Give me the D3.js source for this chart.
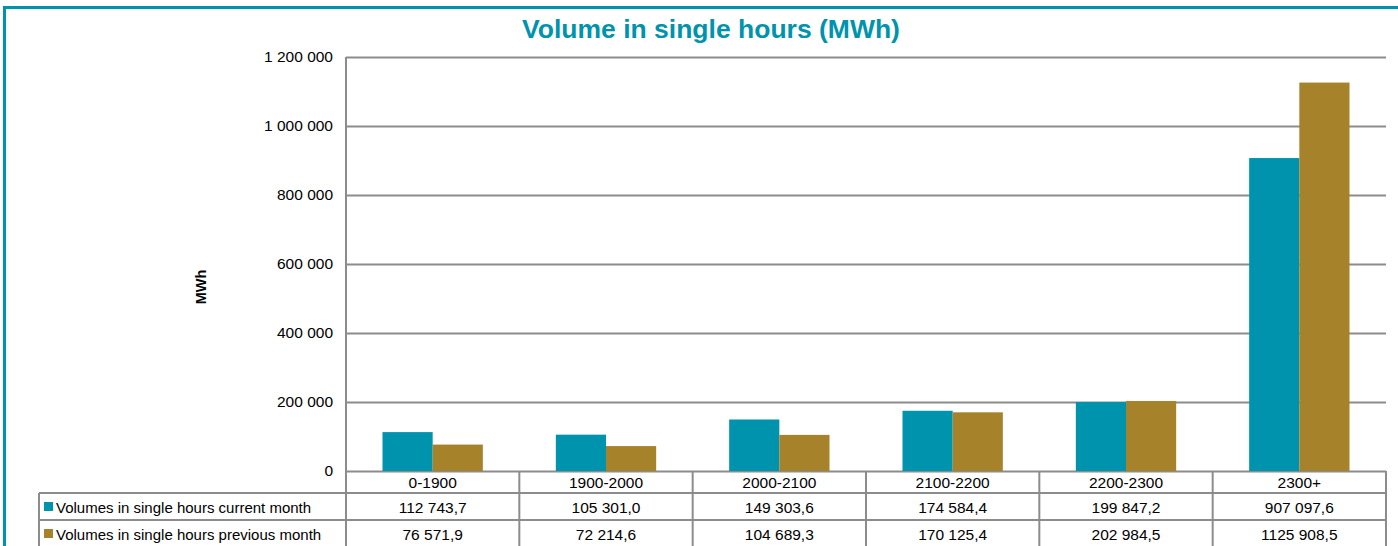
<!DOCTYPE html>
<html>
<head>
<meta charset="utf-8">
<script src="https://cdn.jsdelivr.net/npm/d3@7"></script>
<style>
  body { margin: 0; background: #fff; }
  text { font-family: "Liberation Sans", Arial, sans-serif; }
</style>
</head>
<body>
<div id="chart"></div>
<script>
// data
var categories = ["0-1900", "1900-2000", "2000-2100", "2100-2200", "2200-2300", "2300+"];
var currentMonth = [112743.7, 105301.0, 149303.6, 174584.4, 199847.2, 907097.6];
var previousMonth = [76571.9, 72214.6, 104689.3, 170125.4, 202984.5, 1125908.5];
var currentLabels = ["112 743,7", "105 301,0", "149 303,6", "174 584,4", "199 847,2", "907 097,6"];
var previousLabels = ["76 571,9", "72 214,6", "104 689,3", "170 125,4", "202 984,5", "1125 908,5"];
var seriesNames = ["Volumes in single hours current month", "Volumes in single hours previous month"];
var yTicks = [0, 200000, 400000, 600000, 800000, 1000000, 1200000];

var colors = ["#0093ae", "#a6822a"];
var gridColor = "#8c8c8c";

var width = 1398, height = 546;
var plotLeft = 346, plotRight = 1386, plotTop = 57, plotBottom = 471;

var svg = d3.select("#chart")
  .append("svg")
    .attr("width", width)
    .attr("height", height);

// frame
svg.append("rect")
  .attr("x", 4.5).attr("y", 7.5)
  .attr("width", width + 10).attr("height", height + 10)
  .attr("fill", "none")
  .attr("stroke", "#0093ae")
  .attr("stroke-width", 3);

svg.append("text")
  .attr("x", 711)
  .attr("y", 38)
  .attr("text-anchor", "middle")
  .attr("font-size", "26.5px")
  .attr("font-weight", "bold")
  .attr("fill", "#0093ae")
  .text("Volume in single hours (MWh)");

var y = d3.scaleLinear()
  .domain([0, 1200000])
  .range([plotBottom, plotTop]);

var x = d3.scaleBand()
  .domain(categories)
  .range([plotLeft, plotRight])
  .padding(0);

var xs = d3.scaleBand()
  .domain([0, 1])
  .range([36.5, x.bandwidth() - 36.5])
  .padding(0);

// gridlines
svg.append("g")
  .selectAll("line")
  .data(yTicks)
  .enter()
  .append("line")
    .attr("x1", plotLeft)
    .attr("x2", plotRight)
    .attr("y1", function(d) { return Math.round(y(d)) + 0.5; })
    .attr("y2", function(d) { return Math.round(y(d)) + 0.5; })
    .attr("stroke", gridColor)
    .attr("stroke-width", 2);

// y axis labels
var fmt = function(d) { return d3.format(",")(d).replace(/,/g, " "); };
svg.append("g")
  .selectAll("text")
  .data(yTicks)
  .enter()
  .append("text")
    .attr("x", 333)
    .attr("y", function(d) { return y(d) + 5; })
    .attr("text-anchor", "end")
    .attr("font-size", "15.5px")
    .attr("fill", "#000")
    .text(fmt);

svg.append("text")
  .attr("transform", "translate(206,287) rotate(-90)")
  .attr("text-anchor", "middle")
  .attr("font-size", "14.5px")
  .attr("font-weight", "bold")
  .text("MWh");

// bars
var series = [currentMonth, previousMonth];
series.forEach(function(vals, s) {
  svg.append("g")
    .selectAll("rect")
    .data(vals)
    .enter()
    .append("rect")
      .attr("x", function(d, i) { return x(categories[i]) + xs(s); })
      .attr("y", function(d) { return y(d); })
      .attr("width", xs.bandwidth())
      .attr("height", function(d) { return plotBottom - y(d); })
      .attr("fill", colors[s]);
});

// data table
var rowLines = [493, 520];
var rowBaselines = [513, 540];
var tableLeft = 39;
var tbl = svg.append("g").attr("stroke", gridColor).attr("stroke-width", 2);

// horizontal lines
rowLines.forEach(function(yy) {
  tbl.append("line").attr("x1", tableLeft).attr("x2", plotRight).attr("y1", yy).attr("y2", yy);
});
// vertical lines
tbl.append("line").attr("x1", plotLeft).attr("x2", plotLeft).attr("y1", plotTop).attr("y2", height);
tbl.append("line").attr("x1", tableLeft).attr("x2", tableLeft).attr("y1", rowLines[0]).attr("y2", height);
categories.forEach(function(c) {
  var xr = x(c) + x.bandwidth();
  tbl.append("line").attr("x1", xr).attr("x2", xr).attr("y1", plotBottom).attr("y2", height);
});

// category labels
svg.append("g")
  .selectAll("text")
  .data(categories)
  .enter()
  .append("text")
    .attr("x", function(d) { return x(d) + x.bandwidth() / 2; })
    .attr("y", 488)
    .attr("text-anchor", "middle")
    .attr("font-size", "15.5px")
    .text(function(d) { return d; });

var labelRows = [currentLabels, previousLabels];
labelRows.forEach(function(labels, r) {
  var ty = rowBaselines[r];
  svg.append("g")
    .selectAll("text")
    .data(labels)
    .enter()
    .append("text")
      .attr("x", function(d, i) { return x(categories[i]) + x.bandwidth() / 2; })
      .attr("y", ty)
      .attr("text-anchor", "middle")
      .attr("font-size", "15.5px")
      .text(function(d) { return d; });

  svg.append("rect")
    .attr("x", 44).attr("y", ty - 11)
    .attr("width", 9).attr("height", 9)
    .attr("fill", colors[r]);

  svg.append("text")
    .attr("x", 56)
    .attr("y", ty)
    .attr("font-size", "15px")
    .text(seriesNames[r]);
});
</script>
</body>
</html>
